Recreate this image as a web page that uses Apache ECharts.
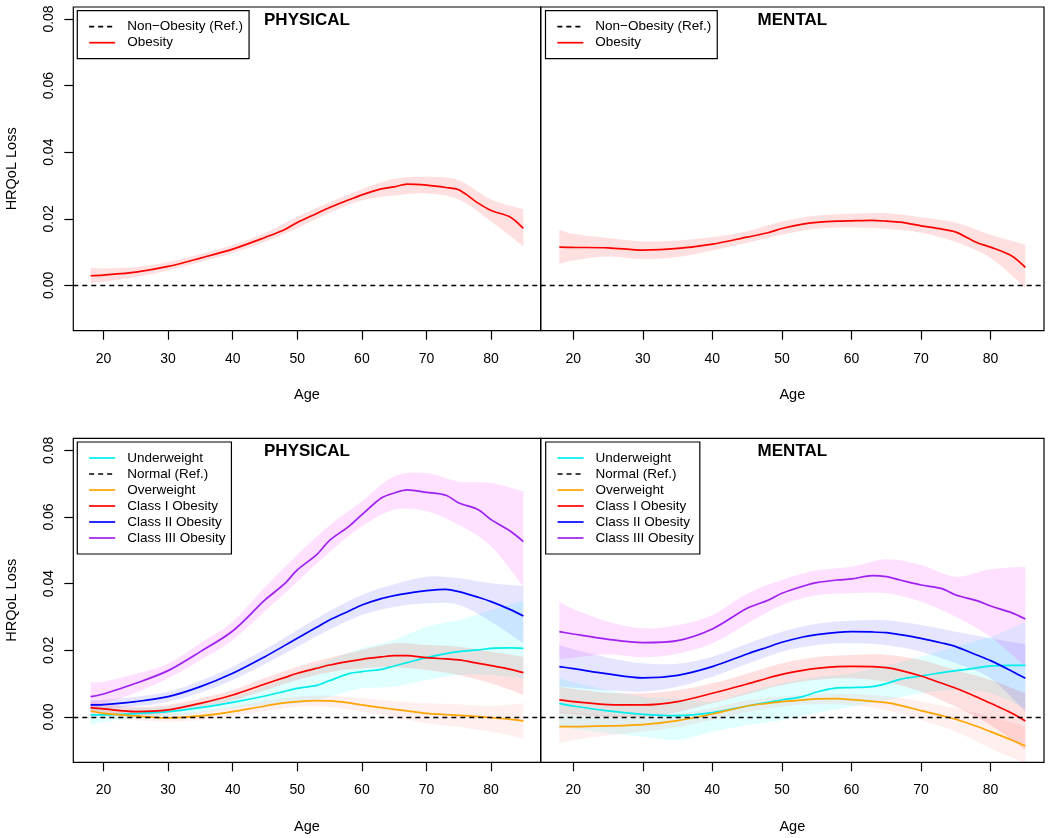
<!DOCTYPE html>
<html><head><meta charset="utf-8">
<script src="https://cdn.jsdelivr.net/npm/echarts@6/dist/echarts.min.js"></script>
<style>html,body{margin:0;padding:0;background:#fff}#c{width:1050px;height:838px}</style>
</head><body><div id="c"></div>
<script>
// ---------- data ----------
const ages = [18,20,25,30,35,40,45,48,50,53,55,58,60,63,65,67,70,73,75,78,80,83,85];
const bandAges = [18,20,25,30,35,40,45,50,55,60,65,70,75,80,85];
const xTicks = [20,30,40,50,60,70,80];
const yTicks = [0,0.02,0.04,0.06,0.08];

// top row: obesity vs non-obesity
const physObese   = [.0029,.0031,.0040,.0057,.0082,.0109,.0144,.0167,.0189,.0216,.0234,.0257,.0272,.0290,.0296,.0304,.0301,.0294,.0287,.0247,.0225,.0205,.0171];
const physObeseLo = [.0007,.0011,.0025,.0045,.0070,.0097,.0131,.0172,.0218,.0255,.0270,.0276,.0258,.0192,.0117];
const physObeseHi = [.0054,.0051,.0055,.0070,.0094,.0121,.0157,.0206,.0250,.0289,.0320,.0326,.0316,.0258,.0229];
const mentObese   = [.0115,.0114,.0113,.0106,.0111,.0124,.0145,.0158,.0171,.0184,.0189,.0193,.0194,.0195,.0193,.0190,.0179,.0169,.0160,.0129,.0115,.0089,.0054];
const mentObeseLo = [.0065,.0075,.0087,.0079,.0085,.0105,.0128,.0152,.0170,.0174,.0170,.0158,.0130,.0082,-.0008];
const mentObeseHi = [.0167,.0155,.0142,.0132,.0135,.0145,.0163,.0192,.0210,.0215,.0217,.0205,.0189,.0152,.0122];

// bottom row, PHYSICAL
const physUW = [.0006,.0006,.0010,.0016,.0028,.0044,.0063,.0077,.0086,.0095,.0109,.0130,.0136,.0143,.0153,.0163,.0178,.0190,.0196,.0201,.0206,.0207,.0206];
const physOW = [.0018,.0011,.0003,-.0003,.0003,.0016,.0033,.0042,.0046,.0049,.0048,.0042,.0036,.0028,.0023,.0018,.0011,.0007,.0005,.0001,-.0002,-.0007,-.0012];
const physC1 = [.0028,.0024,.0016,.0021,.0041,.0066,.0099,.0118,.0131,.0146,.0156,.0167,.0173,.0180,.0184,.0184,.0178,.0174,.0171,.0161,.0154,.0143,.0133];
const physC2 = [.0036,.0037,.0046,.0061,.0091,.0131,.0181,.0214,.0236,.0269,.0291,.0318,.0336,.0355,.0364,.0371,.0379,.0383,.0376,.0359,.0346,.0322,.0303];
const physC3 = [.0061,.0069,.0101,.0139,.0196,.0258,.0351,.0399,.0441,.0487,.0530,.0572,.0607,.0657,.0672,.0681,.0674,.0665,.0642,.0622,.0592,.0557,.0526];
const physUWLo = [-.0024,-.0015,-.0004,.0001,.0012,.0026,.0036,.0041,.0061,.0086,.0091,.0111,.0126,.0126,.0116];
const physUWHi = [.0031,.0028,.0026,.0031,.0045,.0061,.0090,.0131,.0171,.0206,.0231,.0271,.0291,.0321,.0349];
const physOWLo = [.0001,-.0004,-.0010,-.0014,-.0009,.0003,.0018,.0031,.0030,.0016,.0000,-.0019,-.0030,-.0044,-.0064];
const physOWHi = [.0036,.0028,.0017,.0011,.0016,.0031,.0048,.0061,.0064,.0056,.0047,.0041,.0038,.0033,.0041];
const physC1Lo = [.0011,.0010,.0004,.0011,.0027,.0049,.0080,.0111,.0134,.0146,.0149,.0141,.0126,.0101,.0066];
const physC1Hi = [.0045,.0040,.0030,.0036,.0056,.0081,.0117,.0151,.0178,.0201,.0221,.0216,.0211,.0196,.0181];
const physC2Lo = [.0021,.0023,.0032,.0046,.0073,.0111,.0159,.0211,.0262,.0306,.0330,.0341,.0336,.0286,.0221];
const physC2Hi = [.0051,.0052,.0061,.0076,.0109,.0151,.0203,.0261,.0318,.0366,.0398,.0421,.0416,.0401,.0393];
const physC3Lo = [.0031,.0040,.0073,.0116,.0170,.0231,.0318,.0406,.0495,.0572,.0622,.0617,.0577,.0512,.0391];
const physC3Hi = [.0104,.0106,.0130,.0160,.0222,.0286,.0390,.0487,.0575,.0647,.0722,.0732,.0706,.0702,.0677];

// bottom row, MENTAL
const mentUW = [.0041,.0033,.0018,.0008,.0004,.0013,.0033,.0044,.0051,.0061,.0075,.0087,.0088,.0091,.0100,.0113,.0123,.0133,.0139,.0147,.0153,.0155,.0155];
const mentOW = [-.0029,-.0029,-.0027,-.0023,-.0011,.0009,.0033,.0041,.0046,.0051,.0054,.0055,.0052,.0047,.0043,.0035,.0019,.0004,-.0007,-.0028,-.0044,-.0069,-.0087];
const mentC1 = [.0051,.0046,.0037,.0036,.0046,.0071,.0099,.0117,.0128,.0140,.0146,.0151,.0152,.0151,.0148,.0140,.0123,.0101,.0086,.0060,.0041,.0012,-.0012];
const mentC2 = [.0151,.0145,.0129,.0117,.0125,.0151,.0189,.0210,.0224,.0240,.0247,.0254,.0256,.0255,.0253,.0247,.0236,.0222,.0211,.0186,.0169,.0138,.0116];
const mentC3 = [.0256,.0249,.0233,.0223,.0229,.0264,.0326,.0350,.0371,.0392,.0403,.0411,.0414,.0424,.0421,.0411,.0396,.0385,.0366,.0349,.0333,.0313,.0294];
const mentUWLo = [-.0029,-.0035,-.0048,-.0059,-.0069,-.0044,-.0025,-.0009,.0012,.0031,.0050,.0071,.0081,.0071,.0026];
const mentUWHi = [.0116,.0104,.0080,.0061,.0055,.0046,.0075,.0101,.0120,.0131,.0155,.0181,.0211,.0241,.0286];
const mentOWLo = [-.0079,-.0070,-.0055,-.0044,-.0030,-.0009,.0014,.0031,.0038,.0036,.0020,-.0009,-.0044,-.0094,-.0140];
const mentOWHi = [.0016,.0012,.0005,.0006,.0011,.0026,.0050,.0061,.0068,.0069,.0063,.0046,.0026,.0001,-.0029];
const mentC1Lo = [.0011,.0008,.0001,.0001,.0014,.0041,.0068,.0096,.0112,.0116,.0105,.0076,.0031,-.0024,-.0099];
const mentC1Hi = [.0091,.0085,.0073,.0071,.0080,.0101,.0130,.0161,.0180,.0186,.0187,.0171,.0141,.0111,.0071];
const mentC2Lo = [.0091,.0088,.0080,.0076,.0091,.0121,.0159,.0196,.0216,.0221,.0215,.0196,.0161,.0116,.0016];
const mentC2Hi = [.0216,.0203,.0178,.0161,.0160,.0181,.0220,.0256,.0280,.0289,.0290,.0276,.0256,.0236,.0218];
const mentC3Lo = [.0173,.0178,.0188,.0179,.0190,.0221,.0280,.0336,.0365,.0371,.0371,.0346,.0301,.0241,.0151];
const mentC3Hi = [.0346,.0325,.0286,.0266,.0275,.0306,.0370,.0411,.0440,.0451,.0473,.0456,.0421,.0443,.0451];

// ---------- styling ----------
const FONT = '"Liberation Sans", Arial, Helvetica, sans-serif';
const C = {uw:'#00EEEE', ow:'#FFA500', c1:'#FF0000', c2:'#0000FF', c3:'#A020F0'};
const F = {
  ob:'rgba(255,0,0,0.12)', uw:'rgba(0,255,255,0.12)', ow:'rgba(255,40,30,0.075)',
  c1:'rgba(255,0,0,0.12)', c2:'rgba(0,0,255,0.10)', c3:'rgba(255,0,255,0.12)'
};
const NONOB = 'Non\u2212Obesity (Ref.)';
const NORMAL = 'Normal (Ref.)';
const DASH = [5,4];

const grids = [
  {left:73.3, top:7, width:467.4, height:323.7},
  {left:540.7, top:7, width:503.3, height:323.7},
  {left:73.3, top:438.3, width:467.4, height:324},
  {left:540.7, top:438.3, width:503.3, height:324}
].map(g => Object.assign(g, {show:true, borderColor:'#000', borderWidth:1.2, backgroundColor:'transparent', containLabel:false}));

const xAxes = grids.map((g,i) => ({
  type:'value', gridIndex:i, min:15.32, max:87.68,
  axisLine:{show:false, onZero:false}, splitLine:{show:false},
  axisTick:{show:true, length:9, customValues:xTicks, lineStyle:{color:'#000', width:1.2}},
  axisLabel:{customValues:xTicks, margin:21, fontSize:14, color:'#000', fontFamily:FONT},
  name:'Age', nameLocation:'middle', nameGap:57,
  nameTextStyle:{fontSize:14.5, color:'#000', fontFamily:FONT}
}));
const yAxes = grids.map((g,i) => {
  const left = (i % 2 === 0);
  return {
    type:'value', gridIndex:i, min:-0.0136, max:0.0836,
    axisLine:{show:false, onZero:false}, splitLine:{show:false},
    axisTick:{show:left, length:9, customValues:yTicks, lineStyle:{color:'#000', width:1.2}},
    axisLabel:{show:left, customValues:yTicks, rotate:90, margin:17, fontSize:14, color:'#000', fontFamily:FONT,
               formatter: v => Number(v).toFixed(2)},
    name: left ? 'HRQoL Loss' : '', nameLocation:'middle', nameGap:54, nameRotate:90,
    nameTextStyle:{fontSize:14.5, color:'#000', fontFamily:FONT}
  };
});

// smooth path (Catmull-Rom -> cubic Bezier) through pixel points given by the axes
function smoothSeg(pts, start) {
  let d = start ? 'M' + pts[0][0] + ',' + pts[0][1] : 'L' + pts[0][0] + ',' + pts[0][1];
  for (let i = 0; i < pts.length - 1; i++) {
    const p0 = pts[Math.max(i - 1, 0)], p1 = pts[i], p2 = pts[i + 1], p3 = pts[Math.min(i + 2, pts.length - 1)];
    const c1 = [p1[0] + (p2[0] - p0[0]) / 6, p1[1] + (p2[1] - p0[1]) / 6];
    const c2 = [p2[0] - (p3[0] - p1[0]) / 6, p2[1] - (p3[1] - p1[1]) / 6];
    d += 'C' + c1[0] + ',' + c1[1] + ' ' + c2[0] + ',' + c2[1] + ' ' + p2[0] + ',' + p2[1];
  }
  return d;
}

const series = [];
function band(gi, lo, hi, fill) {
  series.push({
    type:'custom', xAxisIndex:gi, yAxisIndex:gi, silent:true, z:1,
    data: bandAges.map((a,k) => [a, lo[k], hi[k]]),
    encode:{x:0, y:[1,2]},
    renderItem: (params, api) => {
      if (params.dataIndexInside !== 0) return null;
      const n = params.dataInsideLength;
      const top = [], bot = [];
      for (let k = 0; k < n; k++) {
        top.push(api.coord([api.value(0, k), api.value(2, k)]));
        bot.push(api.coord([api.value(0, k), api.value(1, k)]));
      }
      bot.reverse();
      const d = smoothSeg(top, true) + smoothSeg(bot, false) + 'Z';
      const cs = params.coordSys;
      return {
        type:'group',
        clipPath:{type:'rect', shape:{x:cs.x, y:cs.y, width:cs.width, height:cs.height}},
        children:[{type:'path', shape:{pathData:d}, style:{fill:fill, stroke:null}}]
      };
    }
  });
}
function line(gi, name, vals, color) {
  series.push({
    type:'line', name, xAxisIndex:gi, yAxisIndex:gi,
    data: ages.map((a,k) => [a, vals[k]]), symbol:'none', smooth:0.3,
    lineStyle:{color, width:1.7}, itemStyle:{color}, z:4
  });
}
function ref(gi, name) {
  series.push({
    type:'line', name, xAxisIndex:gi, yAxisIndex:gi, data:[], symbol:'none',
    lineStyle:{color:'#000', width:1.3, type:DASH}, itemStyle:{color:'#000'}, z:3,
    markLine:{silent:true, symbol:'none', label:{show:false}, animation:false,
      lineStyle:{color:'#000', width:1.3, type:DASH}, data:[{yAxis:0}]}
  });
}

// top panels
band(0, physObeseLo, physObeseHi, F.ob);
ref(0, NONOB);
line(0, 'Obesity', physObese, C.c1);
band(1, mentObeseLo, mentObeseHi, F.ob);
ref(1, NONOB);
line(1, 'Obesity', mentObese, C.c1);

// bottom physical
band(2, physUWLo, physUWHi, F.uw);
band(2, physOWLo, physOWHi, F.ow);
band(2, physC1Lo, physC1Hi, F.c1);
band(2, physC2Lo, physC2Hi, F.c2);
band(2, physC3Lo, physC3Hi, F.c3);
ref(2, NORMAL);
line(2, 'Underweight', physUW, C.uw);
line(2, 'Overweight', physOW, C.ow);
line(2, 'Class I Obesity', physC1, C.c1);
line(2, 'Class II Obesity', physC2, C.c2);
line(2, 'Class III Obesity', physC3, C.c3);

// bottom mental
band(3, mentUWLo, mentUWHi, F.uw);
band(3, mentOWLo, mentOWHi, F.ow);
band(3, mentC1Lo, mentC1Hi, F.c1);
band(3, mentC2Lo, mentC2Hi, F.c2);
band(3, mentC3Lo, mentC3Hi, F.c3);
ref(3, NORMAL);
line(3, 'Underweight', mentUW, C.uw);
line(3, 'Overweight', mentOW, C.ow);
line(3, 'Class I Obesity', mentC1, C.c1);
line(3, 'Class II Obesity', mentC2, C.c2);
line(3, 'Class III Obesity', mentC3, C.c3);

const legendBase = {
  orient:'vertical', itemWidth:26, itemHeight:16, itemGap:0, padding:[8,6,8,11],
  borderColor:'#000', borderWidth:1.2, backgroundColor:'#fff', selectedMode:false,
  itemStyle:{opacity:0}, lineStyle:{width:1.7},
  textStyle:{fontFamily:FONT, fontSize:13.5, color:'#000', lineHeight:16, padding:[0,0,0,7]}, z:10
};
const topLeg = [NONOB, 'Obesity'];
const botLeg = ['Underweight', NORMAL, 'Overweight', 'Class I Obesity', 'Class II Obesity', 'Class III Obesity'];
const legends = [
  Object.assign({}, legendBase, {data:topLeg, left:77.3, top:10.7}),
  Object.assign({}, legendBase, {data:topLeg, left:545.5, top:10.7}),
  Object.assign({}, legendBase, {data:botLeg, left:77.3, top:442}),
  Object.assign({}, legendBase, {data:botLeg, left:545.7, top:442})
];

const titleFont = 'bold 17px ' + FONT;
const graphic = [
  {type:'text', x:307, y:20.5, style:{text:'PHYSICAL', font:titleFont, fill:'#000', align:'center', verticalAlign:'middle'}, z:20},
  {type:'text', x:792.4, y:20.5, style:{text:'MENTAL', font:titleFont, fill:'#000', align:'center', verticalAlign:'middle'}, z:20},
  {type:'text', x:307, y:451.5, style:{text:'PHYSICAL', font:titleFont, fill:'#000', align:'center', verticalAlign:'middle'}, z:20},
  {type:'text', x:792.4, y:451.5, style:{text:'MENTAL', font:titleFont, fill:'#000', align:'center', verticalAlign:'middle'}, z:20}
];

const chart = echarts.init(document.getElementById('c'), null, {renderer:'canvas'});
chart.setOption({
  animation:false, backgroundColor:'#fff',
  grid:grids, xAxis:xAxes, yAxis:yAxes, legend:legends, series, graphic
});
</script></body></html>
